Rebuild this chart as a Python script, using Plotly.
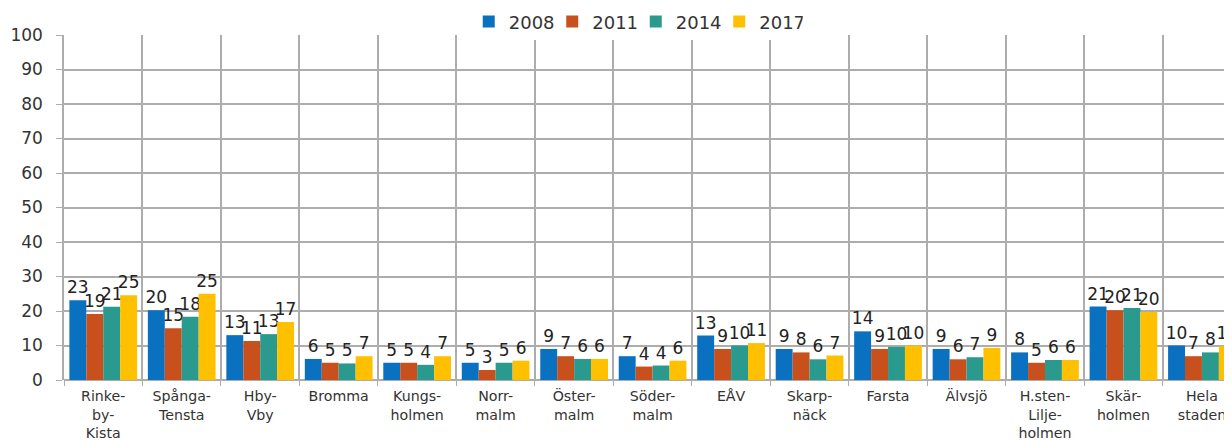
import plotly.graph_objects as go

categories = ["Rinke-<br>by-<br>Kista", "Spånga-<br>Tensta", "Hby-<br>Vby", "Bromma", "Kungs-<br>holmen",
              "Norr-<br>malm", "Öster-<br>malm", "Söder-<br>malm", "EÅV", "Skarp-<br>näck", "Farsta",
              "Älvsjö", "H.sten-<br>Lilje-<br>holmen", "Skär-<br>holmen", "Hela<br>staden"]
v2008 = [23.1, 20.2, 13.0, 6.1, 5.0, 5.0, 9.0, 6.9, 12.9, 9.0, 14.1, 9.0, 8.0, 21.3, 10.0]
v2011 = [19.1, 15.0, 11.3, 5.0, 5.0, 2.9, 6.9, 3.9, 9.0, 8.0, 9.0, 6.0, 5.0, 20.2, 6.9]
v2014 = [21.2, 18.3, 13.3, 4.8, 4.4, 5.0, 6.1, 4.2, 10.0, 6.0, 9.6, 6.6, 5.8, 20.9, 8.0]
v2017 = [24.6, 25.0, 16.8, 6.9, 6.9, 5.6, 6.1, 5.6, 10.7, 7.1, 10.0, 9.3, 5.8, 19.7, 9.8]
series = [("2008", v2008, "#0A70C0"), ("2011", v2011, "#C8501D"),
          ("2014", v2014, "#2A9A8E"), ("2017", v2017, "#FFC000")]
yticks = list(range(0, 101, 10))

FONT = "DejaVu Sans, Verdana, sans-serif"
GRID = "#ADADAD"
fig = go.Figure()
for name, vals, col in series:
    fig.add_trace(go.Bar(
        x=categories, y=vals, name=name, marker_color=col, marker_line_width=0,
        texttemplate="%{y:.0f}", textposition="outside", constraintext="none",
        cliponaxis=False, textfont=dict(size=17, color="#222", family=FONT),
    ))

# the page body has an 8px margin, so the figure is offset by 8px
fig.update_layout(
    width=1224, height=432,
    margin=dict(l=56, r=0, t=27, b=60, autoexpand=False),
    barmode="group", bargap=0.137, bargroupgap=0,
    plot_bgcolor="white", paper_bgcolor="white",
    font=dict(family=FONT, size=15, color="#333"),
    legend=dict(orientation="h", x=0.4895, xanchor="center", y=1.038, yanchor="middle",
                font=dict(size=18, color="#333"), traceorder="normal",
                itemwidth=30, entrywidth=38.5, entrywidthmode="pixels"),
    showlegend=True,
)
fig.update_xaxes(
    range=[-0.5, 14.383], tickson="boundaries", ticks="outside", ticklen=5,
    tickcolor=GRID, showgrid=True, gridcolor=GRID, gridwidth=1.5,
    showline=False, tickfont=dict(size=14.2), tickangle=0, automargin=False,
    ticklabelstandoff=6,
)
fig.update_yaxes(
    range=[0, 100], tickvals=yticks, ticks="outside", ticklen=6, tickcolor=GRID,
    showgrid=True, gridcolor=GRID, gridwidth=1.5, zeroline=True,
    zerolinecolor=GRID, zerolinewidth=1.5, showline=True, linecolor=GRID,
    linewidth=1.5, tickfont=dict(size=17), ticklabelstandoff=10, automargin=False,
)
fig.write_html("out.html")
